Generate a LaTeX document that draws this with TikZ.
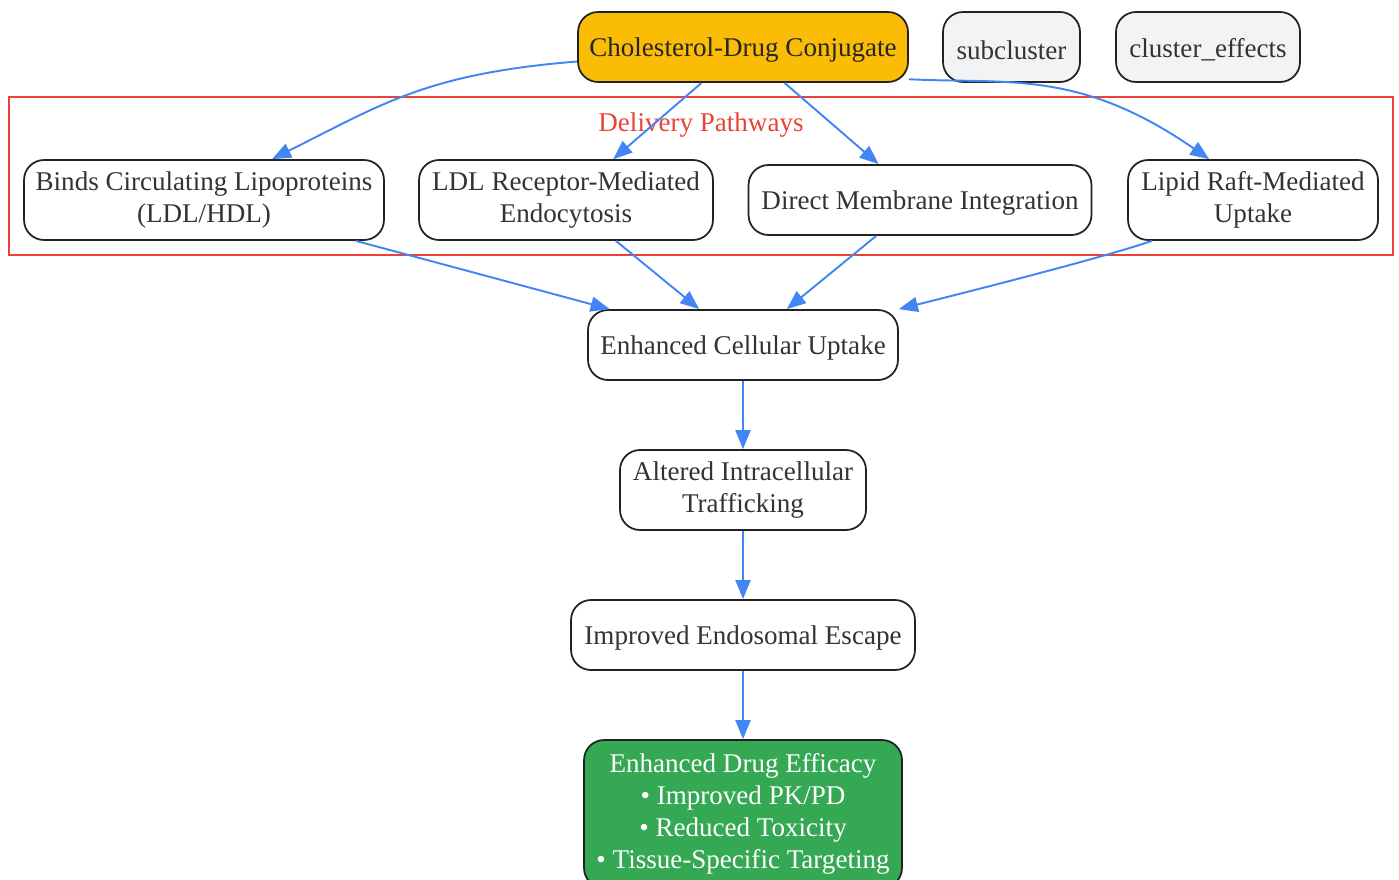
\documentclass[tikz,border=0pt]{standalone}
\usepackage{fontspec}
\setmainfont{Liberation Serif}
\usepackage{xcolor}
\usetikzlibrary{arrows.meta}

\definecolor{flowblue}{RGB}{66,133,244}
\definecolor{clusterred}{RGB}{234,67,53}
\definecolor{conjyellow}{RGB}{251,188,5}
\definecolor{effgreen}{RGB}{52,168,83}
\definecolor{softgrey}{RGB}{241,243,244}
\definecolor{inkgrey}{RGB}{51,51,51}

\begin{document}
\begin{tikzpicture}[x=0.02cm, y=-0.02cm,
	box/.style={shape=rectangle, draw={rgb,255:red,34;green,34;blue,34}, line width=1pt, rounded corners=0.4cm, align=center, inner sep=0pt, text=inkgrey, font=\fontsize{15.4pt}{18.2pt}\selectfont, execute at begin node={\rule{0pt}{0.5cm}}},
	flow/.style={draw=flowblue, line width=1.1pt, -{Triangle[length=0.38cm, width=0.3cm]}}]

	\useasboundingbox (0, 0) rectangle (1399, 879);

	% Cluster and its title:
	\node[shape=rectangle, draw=clusterred, line width=0.9pt, minimum width=27.68cm, minimum height=3.16cm](DP) at (701, 176){};
	\node[anchor=center, text=clusterred, font=\fontsize{15.4pt}{18.2pt}\selectfont](DPtitle) at (701, 125){Delivery Pathways};

	% Nodes:
	\node[box, fill=conjyellow, text=black!85, minimum width=6.6cm, minimum height=1.4cm](CDC) at (743, 47){Cholesterol-Drug Conjugate};
	\node[box, fill=softgrey, minimum width=2.74cm, minimum height=1.4cm](SUB) at (1011.5, 47){subcluster};
	\node[box, fill=softgrey, minimum width=3.68cm, minimum height=1.4cm](EFF) at (1208, 47){cluster\_effects};
	\node[box, fill=white, minimum width=7.2cm, minimum height=1.6cm](BCL) at (204, 200){Binds Circulating Lipoproteins\\(LDL/HDL)};
	\node[box, fill=white, minimum width=5.88cm, minimum height=1.6cm](LDL) at (566, 200){LDL Receptor-Mediated\\Endocytosis};
	\node[box, fill=white, minimum width=6.86cm, minimum height=1.4cm](DMI) at (920, 200){Direct Membrane Integration};
	\node[box, fill=white, minimum width=5.0cm, minimum height=1.6cm](LRU) at (1253, 200){Lipid Raft-Mediated\\Uptake};
	\node[box, fill=white, minimum width=6.2cm, minimum height=1.4cm](ECU) at (743, 345){Enhanced Cellular Uptake};
	\node[box, fill=white, minimum width=4.92cm, minimum height=1.6cm](AIT) at (743, 490){Altered Intracellular\\Trafficking};
	\node[box, fill=white, minimum width=6.88cm, minimum height=1.4cm](IEE) at (743, 635){Improved Endosomal Escape};
	\node[box, fill=effgreen, text=white, minimum width=6.36cm, minimum height=2.96cm](EDE) at (743, 814){Enhanced Drug Efficacy\\• Improved PK/PD\\• Reduced Toxicity\\• Tissue-Specific Targeting};

	% Connectors:
	\draw[flow] (CDC.185) .. controls +(-150, 12) and +(110, -55) .. (BCL.31);
	\draw[flow] (CDC) -- (LDL);
	\draw[flow] (CDC) -- (DMI);
	\draw[flow] (CDC.349) .. controls +(100, 5) and +(-130, -90) .. (LRU.137);
	\draw[flow] (BCL) -- (ECU);
	\draw[flow] (LDL) -- (ECU);
	\draw[flow] (DMI) -- (ECU);
	\draw[flow] (LRU.202) .. controls +(-40, 14) and +(100, -25) .. (ECU.north east);
	\draw[flow] (ECU) -- (AIT);
	\draw[flow] (AIT) -- (IEE);
	\draw[flow] (IEE) -- (EDE);

\end{tikzpicture}
\end{document}
